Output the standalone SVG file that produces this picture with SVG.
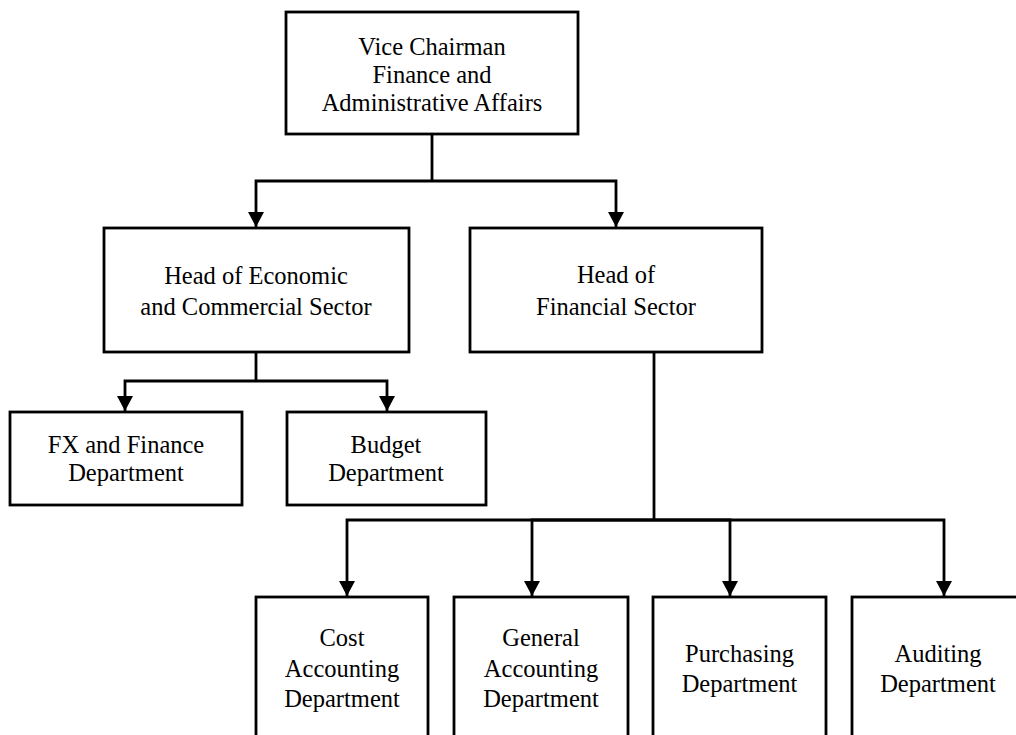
<svg xmlns="http://www.w3.org/2000/svg" width="1016" height="735" viewBox="0 0 1016 735">
<style>
.box{fill:#fff;stroke:#000;stroke-width:2.8}
.lbl{font-family:"Liberation Serif","Times New Roman",serif;font-size:24.5px;fill:#000;text-anchor:middle}
.ln{fill:none;stroke:#000;stroke-width:2.8}
</style>
<defs>
<marker id="arr" markerUnits="userSpaceOnUse" markerWidth="16" markerHeight="16" viewBox="0 0 16 16" refX="15" refY="8" orient="auto">
<path d="M0,0 L15,8 L0,16 Z" fill="#000"/>
</marker>
</defs>
<rect width="1016" height="735" fill="#fff"/>
<g id="connectors">
<path class="ln" d="M432,134 V181"/>
<path class="ln" d="M432,181 H256 V227" marker-end="url(#arr)"/>
<path class="ln" d="M432,181 H616 V227" marker-end="url(#arr)"/>
<path class="ln" d="M256,352 V381"/>
<path class="ln" d="M256,381 H125 V411" marker-end="url(#arr)"/>
<path class="ln" d="M256,381 H387 V411" marker-end="url(#arr)"/>
<path class="ln" d="M654,352 V520"/>
<path class="ln" d="M654,520 H347 V596" marker-end="url(#arr)"/>
<path class="ln" d="M654,520 H532 V596" marker-end="url(#arr)"/>
<path class="ln" d="M654,520 H730 V596" marker-end="url(#arr)"/>
<path class="ln" d="M654,520 H944 V596" marker-end="url(#arr)"/>
</g>
<g id="vice-chairman">
<rect class="box" x="286" y="12" width="292" height="122"/>
<text class="lbl" x="432" y="55">Vice Chairman</text>
<text class="lbl" x="432" y="83">Finance and</text>
<text class="lbl" x="432" y="111">Administrative Affairs</text>
</g>
<g id="economic">
<rect class="box" x="104" y="228" width="305" height="124"/>
<text class="lbl" x="256" y="284">Head of Economic</text>
<text class="lbl" x="256" y="315">and Commercial Sector</text>
</g>
<g id="financial">
<rect class="box" x="470" y="228" width="292" height="124"/>
<text class="lbl" x="616" y="283">Head of</text>
<text class="lbl" x="616" y="315">Financial Sector</text>
</g>
<g id="fx">
<rect class="box" x="10" y="412" width="232" height="93"/>
<text class="lbl" x="126" y="453">FX and Finance</text>
<text class="lbl" x="126" y="481">Department</text>
</g>
<g id="budget">
<rect class="box" x="287" y="412" width="199" height="93"/>
<text class="lbl" x="386" y="453">Budget</text>
<text class="lbl" x="386" y="481">Department</text>
</g>
<g id="cost">
<rect class="box" x="256" y="597" width="172" height="160"/>
<text class="lbl" x="342" y="646">Cost</text>
<text class="lbl" x="342" y="677">Accounting</text>
<text class="lbl" x="342" y="707">Department</text>
</g>
<g id="general">
<rect class="box" x="454" y="597" width="174" height="160"/>
<text class="lbl" x="541" y="646">General</text>
<text class="lbl" x="541" y="677">Accounting</text>
<text class="lbl" x="541" y="707">Department</text>
</g>
<g id="purchasing">
<rect class="box" x="653" y="597" width="173" height="160"/>
<text class="lbl" x="739.5" y="662">Purchasing</text>
<text class="lbl" x="739.5" y="692">Department</text>
</g>
<g id="auditing">
<rect class="box" x="852" y="597" width="174" height="160"/>
<text class="lbl" x="938" y="662">Auditing</text>
<text class="lbl" x="938" y="692">Department</text>
</g>
</svg>
